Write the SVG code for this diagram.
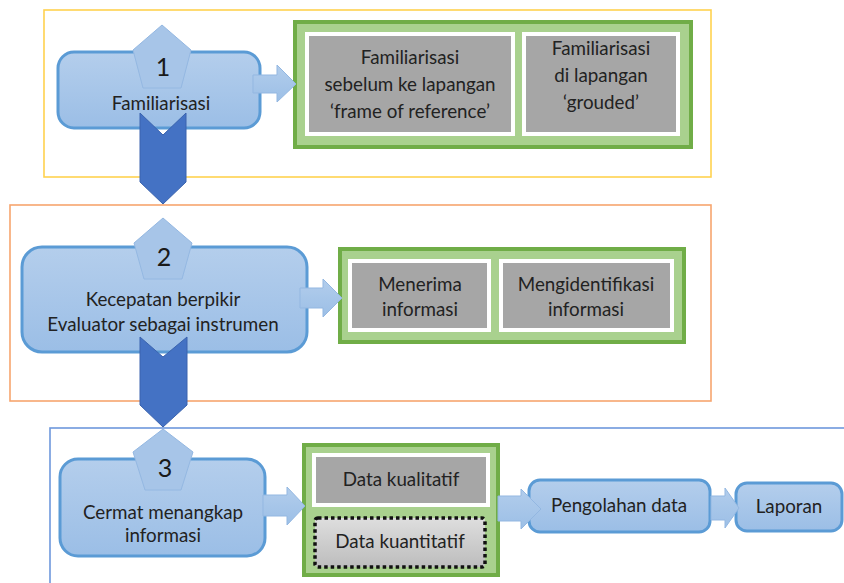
<svg xmlns="http://www.w3.org/2000/svg" width="844" height="583" viewBox="0 0 844 583">
<defs>
<linearGradient id="gBlue" x1="0" y1="0" x2="0" y2="1">
<stop offset="0" stop-color="#B4CEEC"/>
<stop offset="1" stop-color="#9BBEE6"/>
</linearGradient>
<linearGradient id="gArrow" x1="0" y1="0" x2="0" y2="1">
<stop offset="0" stop-color="#B2CDEC"/>
<stop offset="1" stop-color="#9CBFE6"/>
</linearGradient>
<linearGradient id="gLight" x1="0" y1="0" x2="0" y2="1">
<stop offset="0" stop-color="#DEDEDE"/>
<stop offset="1" stop-color="#BDBDBD"/>
</linearGradient>
<style>
.t{font-family:Lato,"Liberation Sans",sans-serif;font-size:18.8px;fill:#222222;text-anchor:middle}
.num{font-family:Lato,"Liberation Sans",sans-serif;font-size:25px;fill:#1a1a1a;text-anchor:middle}
.node{fill:url(#gBlue);stroke:#5B9BD5;stroke-width:3}
.pent{fill:#A7C5E8;stroke:#94B8E2;stroke-width:1}
.arr{fill:url(#gArrow);stroke:#93B7E1;stroke-width:1}
.chev{fill:#4472C4;stroke:#3A63AE;stroke-width:1}
.grn{fill:#A9D18E;stroke:#70AD47;stroke-width:4}
.gry{fill:#A6A6A6;stroke:#FFFFFF;stroke-width:4}
.frame{fill:none;stroke-width:1.6}
</style>
</defs>
<rect width="844" height="583" fill="#FFFFFF"/>
<g id="frames">
<rect class="frame" x="44" y="10" width="667" height="167" stroke="#FFD24F"/>
<rect class="frame" x="10" y="205" width="701" height="196" stroke="#F7A56E"/>
<rect class="frame" x="50" y="428" width="810" height="170" stroke="#6E98DC"/>
</g>
<g id="step1">
<rect class="node" x="58" y="52" width="202" height="76" rx="16"/>
<polygon class="pent" points="162,25 191,50 181,88 143,88 133,50"/>
<text class="num" x="163" y="76">1</text>
<text class="t" x="161" y="110">Familiarisasi</text>
</g>
<g id="group1">
<rect class="grn" x="295" y="22" width="396" height="125"/>
<g id="fam-before">
<rect class="gry" x="307" y="34" width="206" height="100"/>
<text class="t" x="410" y="64">Familiarisasi</text>
<text class="t" x="410" y="91">sebelum ke lapangan</text>
<text class="t" x="410" y="118">‘frame of reference’</text>
</g>
<g id="fam-field">
<rect class="gry" x="524" y="34" width="154" height="100"/>
<text class="t" x="601" y="55">Familiarisasi</text>
<text class="t" x="601" y="82">di lapangan</text>
<text class="t" x="601" y="109">‘grouded’</text>
</g>
</g>
<g id="step2">
<rect class="node" x="22" y="247" width="285" height="105" rx="20"/>
<polygon class="pent" points="163,218 192,243 182,279 144,279 134,243"/>
<text class="num" x="164" y="266">2</text>
<text class="t" x="163" y="306">Kecepatan berpikir</text>
<text class="t" x="163" y="331">Evaluator sebagai instrumen</text>
</g>
<g id="group2">
<rect class="grn" x="340" y="249" width="344" height="93"/>
<g id="menerima">
<rect class="gry" x="350" y="261" width="139" height="69"/>
<text class="t" x="420" y="291">Menerima</text>
<text class="t" x="420" y="316">informasi</text>
</g>
<g id="mengidentifikasi">
<rect class="gry" x="501" y="261" width="171" height="69"/>
<text class="t" x="586" y="291">Mengidentifikasi</text>
<text class="t" x="586" y="316">informasi</text>
</g>
</g>
<g id="step3">
<rect class="node" x="60" y="459" width="205" height="97" rx="18"/>
<polygon class="pent" points="163,429 193,452 181,490 145,490 133,452"/>
<text class="num" x="165" y="477">3</text>
<text class="t" x="163" y="519">Cermat menangkap</text>
<text class="t" x="163" y="542">informasi</text>
</g>
<g id="group3">
<rect class="grn" x="304" y="445" width="194" height="130"/>
<g id="kualitatif">
<rect class="gry" x="314" y="455" width="174" height="50"/>
<text class="t" x="401" y="486">Data kualitatif</text>
</g>
<g id="kuantitatif">
<rect x="315" y="518" width="170" height="49" rx="3" fill="url(#gLight)" stroke="#111111" stroke-width="3.5" stroke-dasharray="3.5 3"/>
<text class="t" x="400" y="548">Data kuantitatif</text>
</g>
</g>
<g id="pengolahan">
<rect class="node" x="529" y="480" width="181" height="52" rx="11"/>
<text class="t" x="619" y="512">Pengolahan data</text>
</g>
<g id="laporan">
<rect class="node" x="736" y="483" width="106" height="48" rx="11"/>
<text class="t" x="789" y="513">Laporan</text>
</g>
<g id="connectors">
<polygon class="arr" points="253,75 277,75 277,65 296,84 277,102 277,93 253,93"/>
<polygon class="arr" points="300,288 323,288 323,279 342,298 323,317 323,308 300,308"/>
<polygon class="arr" points="263,495 287,495 287,487 305,506 287,525 287,516 263,516"/>
<polygon class="arr" points="498,496 521,496 521,489 541,509 521,529 521,521 498,521"/>
<polygon class="arr" points="711,496 725,496 725,488 739,508 725,528 725,520 711,520"/>
<polygon class="chev" points="140,113 163,135 186,113 186,182 163,204 140,182"/>
<polygon class="chev" points="140,337 163,357 187,337 187,405 163,427 140,405"/>
</g>
</svg>
